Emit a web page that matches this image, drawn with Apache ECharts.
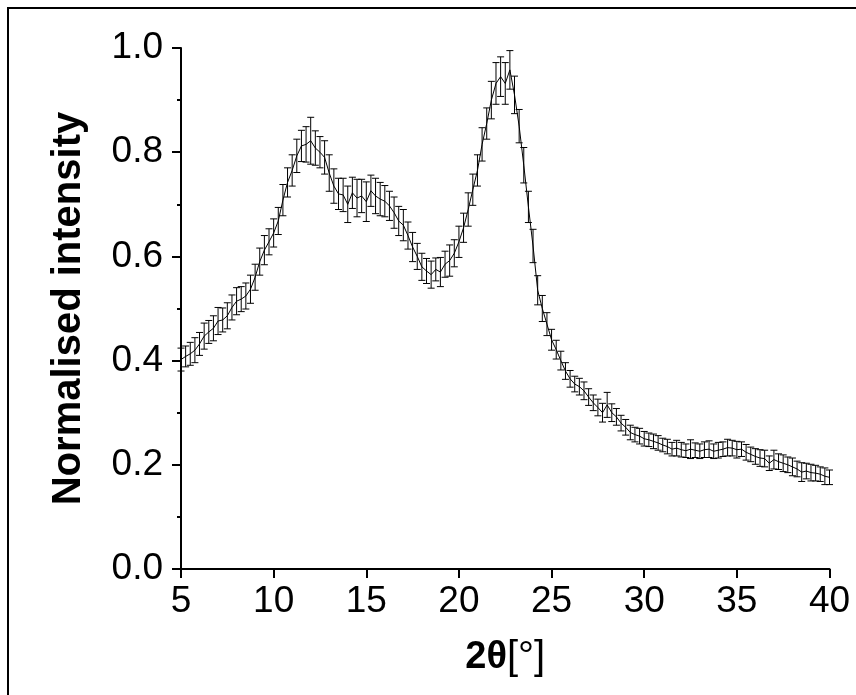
<!DOCTYPE html>
<html>
<head>
<meta charset="utf-8">
<script src="https://cdn.jsdelivr.net/npm/echarts@6/dist/echarts.min.js"></script>
<style>
html,body{margin:0;padding:0;background:#fff;}
#chart{width:856px;height:695px;}
</style>
</head>
<body>
<div id="chart"></div>
<script>
// 2θ positions (degrees)
var twoTheta = [
5.00,5.25,5.50,5.75,6.00,6.25,6.50,6.75,7.00,7.25,7.50,7.75,8.00,8.25,8.50,8.75,
9.00,9.25,9.50,9.75,10.00,10.25,10.50,10.75,11.00,11.25,11.50,11.75,12.00,12.25,12.50,12.75,
13.00,13.25,13.50,13.75,14.00,14.25,14.50,14.75,15.00,15.25,15.50,15.75,16.00,16.25,16.50,16.75,
17.00,17.25,17.50,17.75,18.00,18.25,18.50,18.75,19.00,19.25,19.50,19.75,20.00,20.25,20.50,20.75,
21.00,21.25,21.50,21.75,22.00,22.25,22.50,22.75,23.00,23.25,23.50,23.75,24.00,24.25,24.50,24.75,
25.00,25.25,25.50,25.75,26.00,26.25,26.50,26.75,27.00,27.25,27.50,27.75,28.00,28.25,28.50,28.75,
29.00,29.25,29.50,29.75,30.00,30.25,30.50,30.75,31.00,31.25,31.50,31.75,32.00,32.25,32.50,32.75,
33.00,33.25,33.50,33.75,34.00,34.25,34.50,34.75,35.00,35.25,35.50,35.75,36.00,36.25,36.50,36.75,
37.00,37.25,37.50,37.75,38.00,38.25,38.50,38.75,39.00,39.25,39.50,39.75,40.00
];
// normalised intensity
var intensity = [
0.402,0.408,0.413,0.420,0.432,0.447,0.455,0.462,0.476,0.478,0.486,0.502,0.514,0.518,0.524,0.537,
0.560,0.590,0.612,0.628,0.645,0.668,0.708,0.742,0.765,0.793,0.812,0.815,0.822,0.808,0.800,0.790,
0.760,0.735,0.720,0.718,0.700,0.722,0.712,0.716,0.705,0.726,0.716,0.710,0.706,0.697,0.684,0.668,
0.660,0.640,0.618,0.600,0.580,0.572,0.565,0.575,0.570,0.585,0.592,0.606,0.628,0.655,0.690,0.728,
0.765,0.815,0.855,0.900,0.932,0.945,0.932,0.958,0.910,0.850,0.775,0.695,0.620,0.535,0.500,0.470,
0.440,0.421,0.400,0.380,0.365,0.355,0.350,0.342,0.330,0.319,0.310,0.300,0.315,0.300,0.292,0.280,
0.272,0.262,0.258,0.255,0.250,0.248,0.245,0.242,0.238,0.235,0.230,0.232,0.229,0.227,0.230,0.228,
0.226,0.229,0.230,0.226,0.228,0.230,0.233,0.232,0.229,0.230,0.224,0.220,0.216,0.213,0.212,0.203,
0.210,0.206,0.203,0.200,0.196,0.192,0.186,0.188,0.185,0.184,0.182,0.178,0.176
];
// error (± half-width)
var errors = [
0.022,0.020,0.022,0.024,0.022,0.025,0.022,0.024,0.026,0.023,0.025,0.024,0.026,0.024,0.025,0.027,
0.025,0.026,0.028,0.025,0.027,0.026,0.030,0.028,0.030,0.032,0.030,0.034,0.045,0.033,0.030,0.032,
0.035,0.033,0.030,0.032,0.035,0.030,0.036,0.032,0.038,0.030,0.034,0.032,0.030,0.028,0.030,0.028,
0.030,0.026,0.028,0.025,0.026,0.024,0.026,0.022,0.028,0.025,0.030,0.026,0.030,0.028,0.032,0.030,
0.030,0.032,0.030,0.036,0.040,0.038,0.040,0.037,0.036,0.032,0.034,0.030,0.032,0.028,0.025,0.022,
0.020,0.018,0.018,0.016,0.016,0.015,0.016,0.017,0.016,0.015,0.016,0.018,0.024,0.017,0.016,0.015,
0.015,0.014,0.014,0.015,0.014,0.013,0.014,0.014,0.013,0.014,0.013,0.015,0.014,0.013,0.018,0.014,
0.014,0.015,0.016,0.014,0.015,0.014,0.016,0.015,0.016,0.014,0.015,0.014,0.015,0.016,0.016,0.014,
0.018,0.015,0.016,0.015,0.017,0.015,0.018,0.015,0.016,0.015,0.014,0.016,0.014
];
var xTicks = [5,10,15,20,25,30,35,40];
var yTicks = [0.0,0.2,0.4,0.6,0.8,1.0];

var lineData = twoTheta.map(function(x,i){return [x,intensity[i]];});
var errData = twoTheta.map(function(x,i){return [x,intensity[i]-errors[i],intensity[i]+errors[i]];});

var FONT = "'Liberation Sans', Arial, sans-serif";
var chart = echarts.init(document.getElementById('chart'), null, {renderer:'canvas'});
chart.setOption({
  animation:false,
  backgroundColor:'#ffffff',
  grid:{left:181,right:26.5,top:48,bottom:126,containLabel:false},
  graphic:[{
    type:'rect', shape:{x:8,y:8,width:900,height:800},
    style:{fill:'none',stroke:'#000',lineWidth:2}, z:-1
  }],
  xAxis:{
    type:'value', min:5, max:40, interval:5,
    axisLine:{lineStyle:{color:'#000',width:2}},
    axisTick:{show:true,inside:false,length:9,lineStyle:{color:'#000',width:2}},
    splitLine:{show:false},
    axisLabel:{color:'#000',fontSize:37,fontFamily:FONT,margin:14,
      formatter:function(v){return xTicks.indexOf(v)>=0?String(v):'';}},
    name:'{b|2θ}{n|[°]}', nameLocation:'middle', nameGap:69,
    nameTextStyle:{color:'#000',rich:{
      b:{fontSize:38,fontWeight:'bold',fontFamily:FONT,color:'#000'},
      n:{fontSize:40,fontWeight:'normal',fontFamily:FONT,color:'#000'}
    }}
  },
  yAxis:{
    type:'value', min:0, max:1, interval:0.2,
    axisLine:{show:true,lineStyle:{color:'#000',width:2}},
    axisTick:{show:true,inside:false,length:9,lineStyle:{color:'#000',width:2}},
    minorTick:{show:true,splitNumber:2,length:4,lineStyle:{color:'#000',width:2}},
    splitLine:{show:false},
    axisLabel:{color:'#000',fontSize:37,fontFamily:FONT,margin:18,
      formatter:function(v){return v.toFixed(1);}},
    name:'Normalised intensity', nameLocation:'middle', nameGap:92, nameRotate:90,
    nameTextStyle:{color:'#000',fontSize:40,fontWeight:'bold',fontFamily:FONT}
  },
  series:[
    {
      type:'custom',
      data:errData,
      encode:{x:0,y:[1,2]},
      z:3,
      renderItem:function(params,api){
        var x = api.value(0);
        var lo = api.coord([x, api.value(1)]);
        var hi = api.coord([x, api.value(2)]);
        var hw = 3.5;
        var st = {stroke:'#000',lineWidth:1};
        return {type:'group',children:[
          {type:'line',shape:{x1:lo[0],y1:lo[1],x2:hi[0],y2:hi[1]},style:st},
          {type:'line',shape:{x1:lo[0]-hw,y1:lo[1],x2:lo[0]+hw,y2:lo[1]},style:st},
          {type:'line',shape:{x1:hi[0]-hw,y1:hi[1],x2:hi[0]+hw,y2:hi[1]},style:st}
        ]};
      }
    },
    {
      type:'line',
      data:lineData,
      showSymbol:false,
      symbol:'none',
      lineStyle:{color:'#000',width:1},
      z:4
    }
  ]
});
</script>
</body>
</html>
